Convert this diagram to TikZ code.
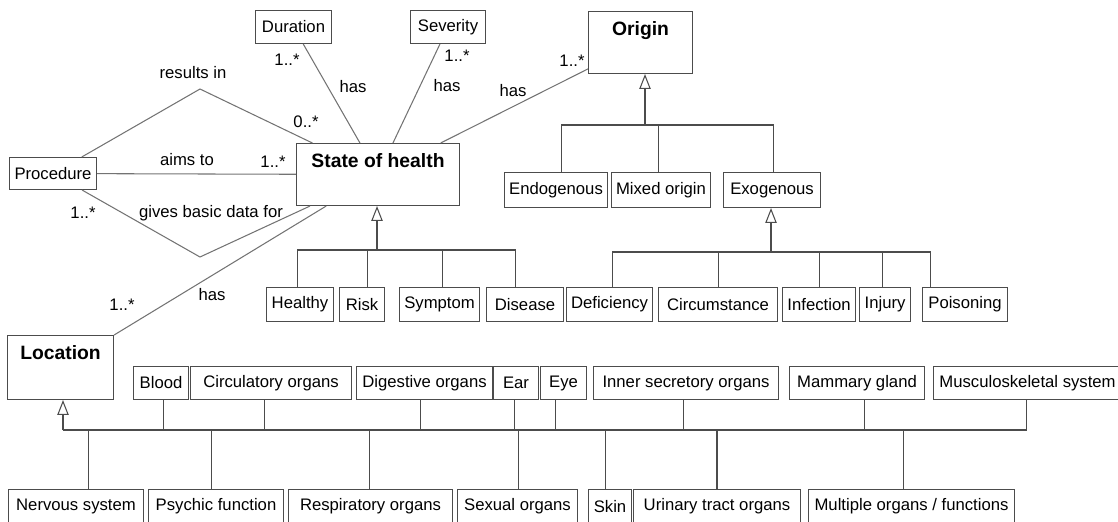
\documentclass[tikz,border=0pt]{standalone}
\usepackage{fontspec}
\setmainfont{Liberation Sans}
\usetikzlibrary{arrows.meta}
\definecolor{boxgray}{gray}{0.3}
\definecolor{linegray}{gray}{0.45}

\begin{document}
\begin{tikzpicture}[x=0.02cm,y=-0.02cm,font=\fontsize{9.5}{11}\selectfont,line width=0.6pt,
cls/.style={draw=boxgray,anchor=north west,inner sep=0pt,minimum height=0.68cm},
hdr/.style={cls,font=\bfseries\fontsize{11}{13}\selectfont,text height=0.48cm,text depth=0.76cm},
lbl/.style={inner sep=1pt},
assoc/.style={draw=linegray},
tree/.style={draw=boxgray},
gen/.style={tree,-{Triangle[open,length=8.5pt,width=6.5pt]}}]
\useasboundingbox (0,0) rectangle (1118,521);

% main classes
\node[hdr,minimum width=3.26cm] (soh) at (296,143) {State of health};
\node[hdr,minimum width=2.08cm] (orig) at (588,11) {Origin};
\node[hdr,minimum width=2.12cm,text depth=0.80cm] (loc) at (7,335) {Location};
\node[cls,minimum width=1.52cm,minimum height=0.66cm] (dur) at (255,10) {Duration};
\node[cls,minimum width=1.50cm,minimum height=0.66cm] (sev) at (410,10) {Severity};
\node[cls,minimum width=1.74cm,minimum height=0.64cm] (proc) at (9,157) {Procedure};

% kinds of origin
\node[cls,minimum width=2.06cm,minimum height=0.70cm] (endo) at (504,172) {Endogenous};
\node[cls,minimum width=1.98cm,minimum height=0.70cm] (mixed) at (611,172) {Mixed origin};
\node[cls,minimum width=1.94cm,minimum height=0.70cm] (exo) at (723,172) {Exogenous};

% kinds of state
\node[cls,minimum width=1.34cm] (healthy) at (266,287) {Healthy};
\node[cls,minimum width=0.90cm] (risk) at (339,287) {Risk};
\node[cls,minimum width=1.60cm] (symptom) at (399,287) {Symptom};
\node[cls,minimum width=1.54cm] (disease) at (486,287) {Disease};

% kinds of exogenous origin
\node[cls,minimum width=1.72cm] (defic) at (566,287) {Deficiency};
\node[cls,minimum width=2.38cm] (circum) at (658,287) {Circumstance};
\node[cls,minimum width=1.46cm] (infect) at (782,287) {Infection};
\node[cls,minimum width=1.02cm] (injury) at (859,287) {Injury};
\node[cls,minimum width=1.70cm] (poison) at (922,287) {Poisoning};

% locations, upper row
\node[cls,minimum width=1.10cm,minimum height=0.66cm] (blood) at (133,366) {Blood};
\node[cls,minimum width=3.22cm,minimum height=0.66cm] (circ) at (190,366) {Circulatory organs};
\node[cls,minimum width=2.72cm,minimum height=0.66cm] (digest) at (356,366) {Digestive organs};
\node[cls,minimum width=0.90cm,minimum height=0.66cm] (ear) at (493,366) {Ear};
\node[cls,minimum width=0.92cm,minimum height=0.66cm] (eye) at (540,366) {Eye};
\node[cls,minimum width=3.70cm,minimum height=0.66cm] (innersec) at (593,366) {Inner secretory organs};
\node[cls,minimum width=2.70cm,minimum height=0.66cm] (mammary) at (789,366) {Mammary gland};
\node[cls,minimum width=3.76cm,minimum height=0.66cm] (musculo) at (933,366) {Musculoskeletal system};

% locations, lower row
\node[cls,minimum width=2.70cm] (nervous) at (8,489) {Nervous system};
\node[cls,minimum width=2.70cm] (psychic) at (148,489) {Psychic function};
\node[cls,minimum width=3.28cm] (resp) at (288,489) {Respiratory organs};
\node[cls,minimum width=2.40cm] (sexual) at (457,489) {Sexual organs};
\node[cls,minimum width=0.86cm] (skin) at (588,489) {Skin};
\node[cls,minimum width=3.34cm] (urinary) at (633,489) {Urinary tract organs};
\node[cls,minimum width=4.12cm] (multiple) at (808,489) {Multiple organs / functions};

% associations
\coordinate (ri) at (200,89);
\coordinate (gb) at (200,257);
\draw[assoc] (soh) -- (dur);
\draw[assoc] (soh) -- (sev);
\draw[assoc] (soh) -- (orig);
\draw[assoc] (soh) -- (proc);
\draw[assoc] (soh) -- (loc);
\draw[assoc] (proc) -- (ri) -- (soh);
\draw[assoc] (proc) -- (gb) -- (soh);

\node[lbl] (ri-t) at (193,73) {results in};
\node[lbl] (ri-m) at (306,122) {0..*};
\node[lbl] (aim-t) at (187,160) {aims to};
\node[lbl] (aim-m) at (273,162) {1..*};
\node[lbl] (gb-t) at (211,213) {gives basic data for};
\node[lbl] (gb-m) at (83,213) {1..*};
\node[lbl] (dur-m) at (287,60) {1..*};
\node[lbl] (dur-t) at (353,87) {has};
\node[lbl] (sev-m) at (457,56) {1..*};
\node[lbl] (sev-t) at (447,86) {has};
\node[lbl] (orig-t) at (513,91) {has};
\node[lbl] (orig-m) at (572,61) {1..*};
\node[lbl] (loc-t) at (212,295) {has};
\node[lbl] (loc-m) at (122,305) {1..*};

% generalisation of state of health
\coordinate (sbus) at (377,250);
\draw[gen] (sbus) -- (sbus |- soh.south);
\draw[tree] (healthy.north) ++(-2.5,0) |- (sbus);
\draw[tree] (risk.north) ++(5.5,0) |- (sbus);
\draw[tree] (symptom.north) ++(3,0) |- (sbus);
\draw[tree] (disease.north) ++(-9.5,0) |- (sbus);

% generalisation of origin
\coordinate (obus) at (645,125);
\draw[gen] (obus) -- (obus |- orig.south);
\draw[tree] (endo.north) ++(5.5,0) |- (obus);
\draw[tree] (mixed.north) ++(-2.5,0) |- (obus);
\draw[tree] (exo.north) ++(1.5,0) |- (obus);

% generalisation of exogenous
\coordinate (xbus) at (771,252);
\draw[gen] (xbus) -- (xbus |- exo.south);
\draw[tree] (defic.north) ++(3,0) |- (xbus);
\draw[tree] (circum.north) |- (xbus);
\draw[tree] (infect.north) |- (xbus);
\draw[tree] (injury.north) ++(-2.5,0) |- (xbus);
\draw[tree] (poison.north) ++(-34.5,0) |- (xbus);

% generalisation of location
\coordinate (lbus) at (63,430);
\draw[gen] (lbus) -- (lbus |- loc.south);
\draw[tree] (blood.south) ++(2.5,0) |- (lbus);
\draw[tree] (circ.south) ++(-6.5,0) |- (lbus);
\draw[tree] (digest.south) ++(-4,0) |- (lbus);
\draw[tree] (ear.south) ++(-1.5,0) |- (lbus);
\draw[tree] (eye.south) ++(-8,0) |- (lbus);
\draw[tree] (innersec.south) ++(-2.5,0) |- (lbus);
\draw[tree] (mammary.south) ++(7.5,0) |- (lbus);
\draw[tree] (musculo.south) ++(-1,0) |- (lbus);
\draw[tree] (nervous.north) ++(12.5,0) |- (lbus);
\draw[tree] (psychic.north) ++(-4.5,0) |- (lbus);
\draw[tree] (resp.north) ++(-1,0) |- (lbus);
\draw[tree] (sexual.north) ++(1,0) |- (lbus);
\draw[tree] (skin.north) ++(-4.5,0) |- (lbus);
\draw[tree] (urinary.north) |- (lbus);
\draw[tree] (multiple.north) ++(-8,0) |- (lbus);
\end{tikzpicture}
\end{document}
